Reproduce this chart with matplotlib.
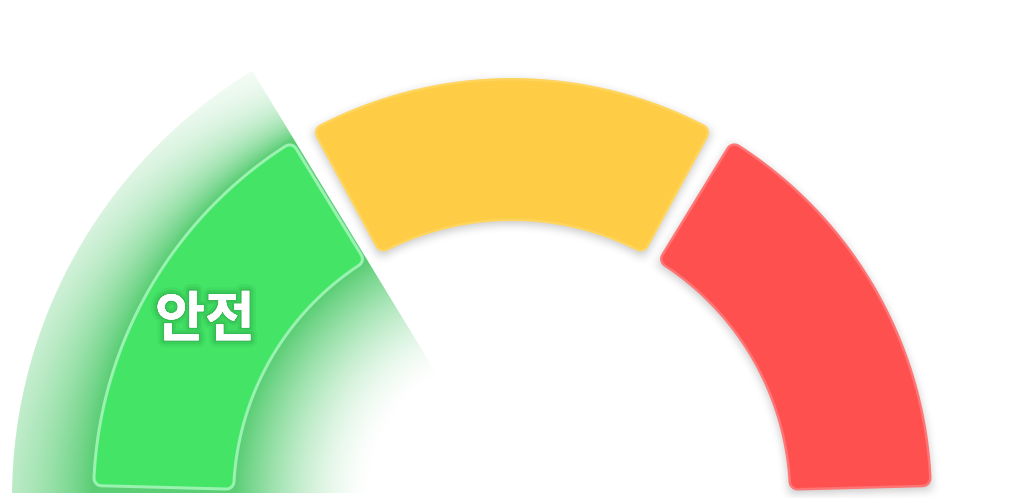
import numpy as np
import matplotlib
matplotlib.use("Agg")
import matplotlib.pyplot as plt
from matplotlib.path import Path
from matplotlib.patches import PathPatch
from matplotlib import patheffects as pe

plt.rcParams['font.family'] = ['Noto Sans CJK KR', 'DejaVu Sans']

# gauge data: three equal bands, first one highlighted
labels = ["안전", "", ""]
values = [1, 1, 1]
fill_colors = ["#44e567", "#fecc45", "#ff5050"]
edge_colors = ["#9af2b0", "#ffd55c", "#ff7474"]
highlight = 0

W, H, DPI = 1020, 498, 100
PX = 72.0 / DPI  # points per pixel
cx, cy = 512, 498
r_in, r_out = 277, 420
pad = 3.0          # gap between bands, degrees
corner = 9.0       # rounded corner radius, px
border = 2.5
glow_r = 500       # outer reach of the highlight glow
glow_r0 = 140      # inner reach


def band_angles(vals):
    total = float(sum(vals))
    out, start = [], 180.0
    for v in vals:
        span = 180.0 * v / total
        out.append((start - pad / 2, start - span + pad / 2))
        start -= span
    return out


def sector_path(a0, a1, inset):
    ri, ro = r_in + inset, r_out - inset
    o0 = a0 - np.degrees(np.arcsin(inset / ro))
    o1 = a1 + np.degrees(np.arcsin(inset / ro))
    i0 = a0 - np.degrees(np.arcsin(inset / ri))
    i1 = a1 + np.degrees(np.arcsin(inset / ri))
    ta = np.radians(np.linspace(o0, o1, 80))
    tb = np.radians(np.linspace(i1, i0, 80))
    xs = np.concatenate([cx + ro * np.cos(ta), cx + ri * np.cos(tb)])
    ys = np.concatenate([cy - ro * np.sin(ta), cy - ri * np.sin(tb)])
    verts = np.column_stack([xs, ys])
    verts = np.vstack([verts, verts[:1]])
    codes = [Path.MOVETO] + [Path.LINETO] * (len(verts) - 2) + [Path.CLOSEPOLY]
    return Path(verts, codes)


def box_blur(a, w, axis):
    a = np.moveaxis(a, axis, 0)
    h = w // 2
    p = np.pad(a, ((h + 1, h),) + ((0, 0),) * (a.ndim - 1))
    c = np.cumsum(p, axis=0)
    out = (c[w:] - c[:-w]) / w
    return np.moveaxis(out, 0, axis)


def gblur(a, sigma):
    w = max(1, int(round(np.sqrt(4 * sigma ** 2 + 1))))
    if w % 2 == 0:
        w += 1
    for _ in range(3):
        a = box_blur(a, w, 0)
        a = box_blur(a, w, 1)
    return a


xs = np.arange(W) + 0.5
ys = np.arange(H) + 0.5
X, Y = np.meshgrid(xs, ys)
DX, DY = X - cx, cy - Y
R = np.hypot(DX, DY)
TH = np.degrees(np.arctan2(DY, DX))

angles = band_angles(values)

fig = plt.figure(figsize=(W / DPI, H / DPI), dpi=DPI)
ax = fig.add_axes([0, 0, 1, 1])
ax.set_xlim(0, W)
ax.set_ylim(H, 0)
ax.set_aspect("equal")
ax.axis("off")

# soft grey drop shadow under bands (shifted 3px down)
shadow = np.zeros_like(R)
for k, (a0, a1) in enumerate(angles):
    if k == highlight:
        continue
    shadow += (R >= r_in) & (R <= r_out) & (TH <= a0) & (TH >= a1)
shadow = gblur(shadow, 4.0)
shifted = np.zeros_like(shadow)
shifted[3:] = shadow[:-3]
sh_img = np.zeros((H, W, 4))
sh_img[..., 3] = np.clip(shifted * 0.22, 0, 1)
ax.imshow(sh_img, extent=(0, W, H, 0), zorder=1, interpolation="bilinear")

# green glow wedge behind the highlighted band (heavier towards the bottom)
a0, a1 = angles[highlight]
peak = 0.78
frac = np.clip((TH - a1) / (180 - a1), 0, 1)
decay = 30 + 62 * frac
alpha = np.full_like(R, peak)
alpha = np.where(R > r_out, peak * np.exp(-(R - r_out) / decay), alpha)
t = np.clip((R - glow_r0) / (r_in - glow_r0), 0, 1)
alpha = np.where(R < r_in, peak * t ** 1.6, alpha)
edge = np.radians(a1 - 0.2)
d = DX * np.sin(edge) - DY * np.cos(edge)
alpha *= np.clip(0.5 - d, 0, 1)
alpha *= np.clip(glow_r + 0.5 - R, 0, 1)
alpha *= np.clip(493.5 - Y, 0, 1)
glow_img = np.zeros((H, W, 4))
glow_img[..., :3] = np.array([44, 192, 78]) / 255.0
glow_img[..., 3] = alpha
ax.imshow(glow_img, extent=(0, W, H, 0), zorder=1.5, interpolation="bilinear")

# bands with rounded corners and a light border
for k, (a0, a1) in enumerate(angles):
    path = sector_path(a0, a1, corner)
    bw = 3.0 if k == highlight else border
    ax.add_patch(PathPatch(path, facecolor=edge_colors[k], edgecolor=edge_colors[k],
                           lw=2 * corner * PX, joinstyle="round", zorder=3))
    ax.add_patch(PathPatch(path, facecolor=fill_colors[k], edgecolor=fill_colors[k],
                           lw=2 * (corner - bw) * PX, joinstyle="round", zorder=4))

# label for the highlighted band
a0, a1 = angles[highlight]
mid = np.radians((a0 + a1) / 2)
rl = (r_in + r_out) / 2 + 6
ax.text(cx + rl * np.cos(mid), cy - rl * np.sin(mid), labels[highlight],
        color="white", fontsize=39, fontweight="bold", ha="center", va="center", zorder=6,
        path_effects=[pe.withStroke(linewidth=10, foreground=(0, 0.25, 0.05, 0.05)),
                      pe.withStroke(linewidth=6, foreground=(0, 0.25, 0.05, 0.08)),
                      pe.withStroke(linewidth=2.5, foreground=(0, 0.2, 0.05, 0.10)),
                      pe.Normal()])

fig.savefig("out.png", dpi=DPI, facecolor="white")
